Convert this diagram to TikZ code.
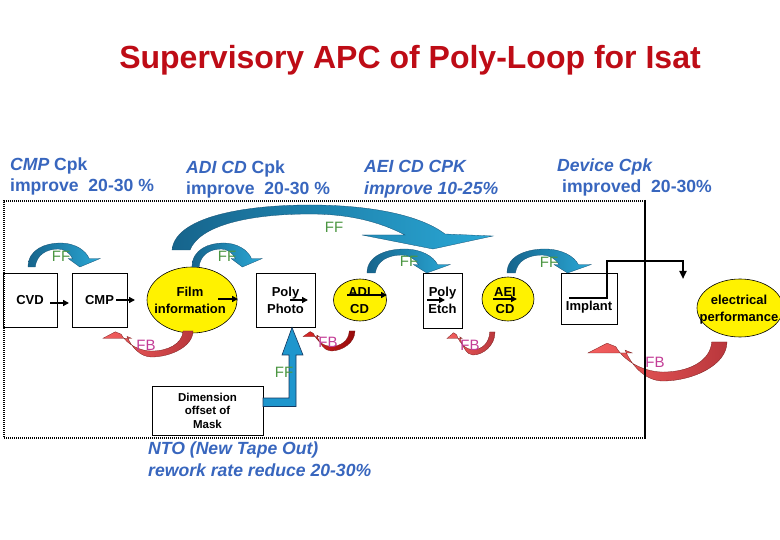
\documentclass[tikz,border=0pt]{standalone}
\usepackage{fontspec}
\setmainfont{Liberation Sans}
\usetikzlibrary{arrows.meta,shapes.geometric}
\definecolor{titlered}{RGB}{190,12,22}
\definecolor{topblue}{RGB}{56,102,190}
\definecolor{ffdark}{RGB}{22,100,140}
\definecolor{fflight}{RGB}{42,168,214}
\definecolor{ffedge}{RGB}{20,80,115}
\definecolor{fbdark}{RGB}{185,55,60}
\definecolor{fblight}{RGB}{245,95,95}
\definecolor{fbedge}{RGB}{120,30,30}
\definecolor{fbddark}{RGB}{150,10,10}
\definecolor{fbdlight}{RGB}{220,40,40}
\definecolor{ffgreen}{RGB}{75,150,65}
\definecolor{fbpink}{RGB}{195,60,150}
\definecolor{vffill}{RGB}{30,150,205}
\definecolor{vfedge}{RGB}{20,55,95}
\newcommand\ndfont{\fontsize{13}{17}\selectfont\bfseries}
\newcommand\dmfont{\fontsize{11.5}{13.5}\selectfont\bfseries}
\newcommand\tpfont{\fontsize{17.6}{21}\selectfont\bfseries}
\newcommand\ffarrow[4]{%
  \begin{scope}[shift={(#1,#2)},xscale=#3,yscale=-#4]
    \shade[left color=ffdark,right color=fflight,draw=ffedge,line width=0.3pt]
      (0,0) .. controls (0,0.75) and (0.25,1) .. (0.45,1)
      .. controls (0.65,1) and (0.8,0.7) .. (0.85,0.35)
      -- (1,0.35) -- (0.72,0) -- (0.56,0.35) -- (0.62,0.35)
      .. controls (0.58,0.6) and (0.5,0.75) .. (0.42,0.75)
      .. controls (0.25,0.75) and (0.12,0.5) .. (0.1,0) -- cycle;
  \end{scope}}
\newcommand\fbarrow[6]{%
  \begin{scope}[shift={(#1,#2)},xscale=#3,yscale=-#4]
    \shade[left color=#5,right color=#6,draw=fbedge,line width=0.3pt]
      (1,1) .. controls (1,0.4) and (0.75,0) .. (0.54,0)
      .. controls (0.42,0) and (0.32,0.35) .. (0.267,0.79)
      -- (0.317,0.72) -- (0,0.72) -- (0.137,0.97) -- (0.2,0.88)
      .. controls (0.27,0.45) and (0.42,0.23) .. (0.54,0.23)
      .. controls (0.72,0.23) and (0.88,0.5) .. (0.89,1) -- cycle;
  \end{scope}}
\begin{document}
\begin{tikzpicture}[x=1pt,y=-1pt,
  box/.style={draw, line width=0.7pt, inner sep=0pt, align=center, font=\ndfont},
  yel/.style={draw, ellipse, fill=yellow, line width=0.6pt, inner sep=0pt},
  ntext/.style={inner sep=0pt, align=center, font=\ndfont},
  tp/.style={anchor=base west, inner sep=0pt, text=topblue, font=\tpfont},
  ffl/.style={inner sep=0pt, text=ffgreen, font=\fontsize{15}{15}\selectfont},
  fbl/.style={inner sep=0pt, text=fbpink, font=\fontsize{15}{15}\selectfont},
  sarrow/.style={line width=1.5pt, -{Triangle[length=6pt,width=6pt]}},
  dotframe/.style={line width=2.5pt, dash pattern=on 1pt off 1pt}]
\useasboundingbox (0,0) rectangle (780,540);
\fill[white] (0,0) rectangle (780,540);

% title
\node[anchor=base, inner sep=0pt, text=titlered, font=\fontsize{32}{36}\selectfont\bfseries] (title) at (410,69) {Supervisory APC of Poly-Loop for Isat};

% top and bottom texts
\node[tp] (t1a) at (10,171) {\textit{CMP} Cpk};
\node[tp] (t1b) at (10,192) {improve\ \ 20-30 \%};
\node[tp] (t2a) at (186,174) {\textit{ADI CD} Cpk};
\node[tp] (t2b) at (186,195) {improve\ \ 20-30 \%};
\node[tp] (t3a) at (364,173) {\textit{AEI CD CPK}};
\node[tp] (t3b) at (364,195) {\textit{improve 10-25\%}};
\node[tp] (t4a) at (557,172) {\textit{Device Cpk}};
\node[tp] (t4b) at (562,193) {improved\ \ 20-30\%};
\node[tp] (n1) at (148,454) {\textit{NTO (New Tape Out)}};
\node[tp] (n2) at (148,476) {\textit{rework rate reduce 20-30\%}};

% frame
\draw[dotframe] (645,201) -- (4,201) -- (4,438) -- (645,438);

% process nodes
\node[box, minimum width=54pt, minimum height=54pt] (cvd) at (30,300) {CVD};
\node[box, minimum width=55pt, minimum height=54pt] (cmp) at (99.5,300) {CMP};
\node[yel, minimum width=90pt, minimum height=66pt] (film) at (192,300) {};
\node[ntext] (filmt) at (190,300.5) {Film\\information};
\node[box, minimum width=59pt, minimum height=54pt] (photo) at (285.5,300) {Poly\\Photo};
\node[yel, minimum width=53pt, minimum height=42pt] (adi) at (360,300) {};
\node[ntext] (adit) at (359.5,300.5) {ADI\\CD};
\node[box, minimum width=39pt, minimum height=55pt] (etch) at (442.5,300.5) {Poly\\Etch};
\node[yel, minimum width=52pt, minimum height=44pt] (aei) at (508,299) {};
\node[ntext] (aeit) at (505,301) {AEI\\CD};
\node[box, minimum width=56pt, minimum height=51pt] (imp) at (589,298.5) {};
\node[ntext] (impt) at (589,307) {Implant};
\node[yel, minimum width=86pt, minimum height=58pt] (elec) at (740,308) {};
\node[ntext] (elect) at (739,310) {electrical\\performance};
\node[box, font=\dmfont, minimum width=111pt, minimum height=49pt] (dim) at (207.5,410.5) {Dimension\\offset of\\Mask};

% big FF arrow
\shade[left color=ffdark,right color=fflight,draw=ffedge,line width=0.3pt]
  (172,250) .. controls (175,218) and (240,205) .. (310,205)
  .. controls (370,205) and (420,215) .. (445,234)
  -- (493,236) -- (433,249) -- (362,235) -- (405,235)
  .. controls (380,222) and (350,214) .. (310,214)
  .. controls (250,214) and (200,225) .. (190,250) -- cycle;

% small FF arrows
\ffarrow{28}{267}{72}{24}
\ffarrow{192}{267}{70}{24}
\ffarrow{367}{273}{83}{24}
\ffarrow{507}{273}{84}{24}

% FB arrows
\fbarrow{103}{357}{90}{26}{fblight}{fbdark}
\fbarrow{303}{351}{52}{20}{fbdlight}{fbddark}
\fbarrow{447}{355}{48}{23}{fblight}{fbdark}
\fbarrow{588}{381}{139}{39}{fblight}{fbdark}

% vertical FF arrow from mask box to poly photo
\filldraw[fill=vffill, draw=vfedge, line width=0.6pt]
  (263,398) -- (289,398) -- (289,355) -- (282,355) -- (292,327.5)
  -- (303,355) -- (296,355) -- (296,406.5) -- (263,406.5) -- cycle;

% small black arrows
\coordinate (a1s) at (50,303);  \coordinate (a1e) at (69,303);
\coordinate (a2s) at (116,300); \coordinate (a2e) at (135,300);
\coordinate (a3s) at (218,299); \coordinate (a3e) at (238,299);
\coordinate (a4s) at (290,300); \coordinate (a4e) at (308,300);
\coordinate (a5s) at (347,295); \coordinate (a5e) at (387,295);
\coordinate (a6s) at (427,300); \coordinate (a6e) at (445,300);
\coordinate (a7s) at (493,299); \coordinate (a7e) at (517,299);
\draw[sarrow] (a1s) -- (a1e);
\draw[sarrow] (a2s) -- (a2e);
\draw[sarrow] (a3s) -- (a3e);
\draw[sarrow] (a4s) -- (a4e);
\draw[sarrow] (a5s) -- (a5e);
\draw[sarrow] (a6s) -- (a6e);
\draw[sarrow] (a7s) -- (a7e);

% implant -> electrical performance
\coordinate (impout) at (569,298);
\coordinate (elecin) at (683,279);
\draw[line width=2pt, -{Triangle[length=8pt,width=7pt]}] (impout) -| (607,261) -| (elecin);

% solid right side of frame
\draw[line width=2.5pt] (645,200) -- (645,439);

% labels
\node[ffl] (ff1) at (61,256) {FF};
\node[ffl] (ff2) at (227,256) {FF};
\node[ffl] (ff3) at (409,261) {FF};
\node[ffl] (ff4) at (549,262) {FF};
\node[ffl] (ff5) at (334,227) {FF};
\node[ffl] (ff6) at (284,372) {FF};
\node[fbl] (fb1) at (146,345) {FB};
\node[fbl] (fb2) at (328,342) {FB};
\node[fbl] (fb3) at (470,345) {FB};
\node[fbl] (fb4) at (655,362) {FB};
\end{tikzpicture}
\end{document}
